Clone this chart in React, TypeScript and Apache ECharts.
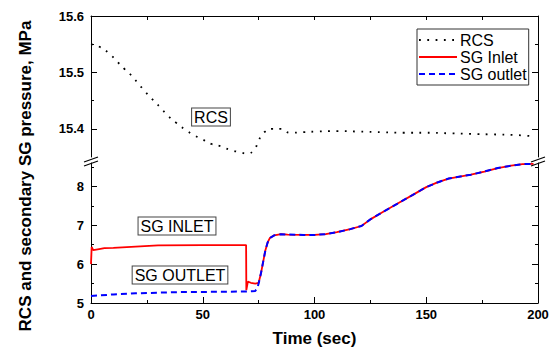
import React, { useEffect, useRef } from "react";
import * as echarts from "echarts";

const rcsTime = [0, 4, 8, 12, 15, 18, 21, 24, 27, 31, 34, 38, 42, 46, 50, 54, 58, 62, 66, 70, 73, 75, 77, 81, 85, 89, 95, 100, 110, 120, 130, 140, 150, 160, 170, 180, 190, 197];
const rcsValues = [15.55, 15.545, 15.534, 15.518, 15.506, 15.495, 15.481, 15.467, 15.454, 15.438, 15.425, 15.411, 15.399, 15.389, 15.381, 15.373, 15.369, 15.363, 15.359, 15.356, 15.363, 15.379, 15.392, 15.4, 15.4, 15.393, 15.394, 15.395, 15.396, 15.395, 15.394, 15.393, 15.393, 15.392, 15.391, 15.39, 15.389, 15.387];

const inletTime = [0, 0.3, 1, 3, 6, 10, 20, 30, 50, 69.4, 69.5, 70.2, 71.5, 73.5, 75, 76, 77, 78, 79, 80, 82, 85, 88, 95, 100, 105, 110, 116, 121, 125, 130, 137, 144, 150, 155, 160, 170, 176, 182, 188, 193, 198];
const inletValues = [6.0, 6.44, 6.36, 6.38, 6.41, 6.42, 6.45, 6.48, 6.49, 6.49, 5.33, 5.55, 5.52, 5.5, 5.52, 5.75, 6.05, 6.35, 6.55, 6.67, 6.74, 6.77, 6.76, 6.75, 6.75, 6.77, 6.82, 6.9, 6.98, 7.15, 7.32, 7.55, 7.78, 7.98, 8.1, 8.2, 8.3, 8.38, 8.47, 8.53, 8.57, 8.58];

const outletTime = [0, 10, 20, 40, 60, 72, 73.5, 74.5, 75, 76, 77, 78, 79, 80, 82, 85, 88, 95, 100, 105, 110, 116, 121, 125, 130, 137, 144, 150, 155, 160, 170, 176, 182, 188, 193, 198];
const outletValues = [5.18, 5.22, 5.25, 5.28, 5.29, 5.3, 5.31, 5.4, 5.5, 5.75, 6.05, 6.35, 6.55, 6.67, 6.74, 6.77, 6.76, 6.75, 6.75, 6.77, 6.82, 6.9, 6.98, 7.15, 7.32, 7.55, 7.78, 7.98, 8.1, 8.2, 8.3, 8.38, 8.47, 8.53, 8.57, 8.58];

const topMajorTicks = [15.4, 15.5];
const topMinorTicks = [15.45, 15.55];
const topLabels = [15.4, 15.5, 15.6];
const bottomMajorTicks = [6, 7, 8];
const bottomMinorTicks = [5.5, 6.5, 7.5, 8.5];
const bottomLabels = [5, 6, 7, 8];

const FONT = "'Liberation Sans', Arial, sans-serif";

const pairs = (t: number[], v: number[]) => t.map((x, i) => [x, v[i]]);

function yAxes(gridIndex: number, min: number, max: number, major: number[], minor: number[], labels: number[]) {
  const base = {
    type: "value",
    gridIndex,
    min,
    max,
    splitLine: { show: false },
    axisLine: { show: true, lineStyle: { color: "#000", width: 1 } },
  };
  return [
    {
      ...base,
      position: "left",
      axisTick: { show: true, inside: true, length: 6, customValues: major, lineStyle: { color: "#000" } },
      axisLabel: {
        show: true,
        customValues: labels,
        color: "#000",
        fontWeight: "bold",
        fontSize: 13,
        fontFamily: FONT,
        margin: 7,
      },
    },
    {
      ...base,
      position: "left",
      axisLine: { show: false },
      axisTick: { show: true, inside: true, length: 3, customValues: minor, lineStyle: { color: "#000" } },
      axisLabel: { show: false },
    },
    {
      ...base,
      position: "right",
      axisTick: { show: true, inside: true, length: 6, customValues: major, lineStyle: { color: "#000" } },
      axisLabel: { show: false },
    },
    {
      ...base,
      position: "right",
      axisLine: { show: false },
      axisTick: { show: true, inside: true, length: 3, customValues: minor, lineStyle: { color: "#000" } },
      axisLabel: { show: false },
    },
  ];
}

function annotation(text: string, x: number, y: number) {
  return {
    type: "text",
    x,
    y,
    z: 100,
    style: {
      text,
      fontSize: 16,
      fontFamily: FONT,
      fill: "#000",
      align: "center",
      verticalAlign: "middle",
      backgroundColor: "#fff",
      borderColor: "#444",
      borderWidth: 1,
      padding: [1, 2, 0, 2],
    },
  };
}

function slash(x1: number, y1: number, x2: number, y2: number) {
  return {
    type: "line",
    z: 100,
    shape: { x1, y1, x2, y2 },
    style: { stroke: "#000", lineWidth: 1.2 },
  };
}

export default function App() {
  const ref = useRef<HTMLDivElement>(null);
  useEffect(() => {
    if (!ref.current) return;
    const chart = echarts.init(ref.current, undefined, { renderer: "svg" });
    chart.setOption({
      animation: false,
      backgroundColor: "#fff",
      grid: [
        { left: 91, right: 15, top: 16, height: 141 },
        { left: 91, right: 15, top: 163, height: 140 },
      ],
      xAxis: [
        {
          type: "value",
          gridIndex: 0,
          position: "top",
          min: 0,
          max: 200,
          interval: 25,
          splitLine: { show: false },
          axisLine: { show: true, lineStyle: { color: "#000" } },
          axisTick: { show: true, inside: true, length: 4, lineStyle: { color: "#000" } },
          axisLabel: { show: false },
        },
        {
          type: "value",
          gridIndex: 1,
          position: "bottom",
          min: 0,
          max: 200,
          interval: 50,
          splitLine: { show: false },
          axisLine: { show: true, lineStyle: { color: "#000" } },
          axisTick: { show: true, inside: true, length: 6, lineStyle: { color: "#000" } },
          minorTick: { show: true, splitNumber: 2, length: 3, lineStyle: { color: "#000" } },
          minorSplitLine: { show: false },
          axisLabel: {
            color: "#000",
            fontWeight: "bold",
            fontSize: 13,
            fontFamily: FONT,
            margin: 5,
          },
          name: "Time (sec)",
          nameLocation: "middle",
          nameGap: 27,
          nameTextStyle: { color: "#000", fontWeight: "bold", fontSize: 17, fontFamily: FONT },
        },
      ],
      yAxis: [
        ...yAxes(0, 15.35, 15.6, topMajorTicks, topMinorTicks, topLabels),
        ...yAxes(1, 5, 8.6, bottomMajorTicks, bottomMinorTicks, bottomLabels),
      ],
      legend: {
        orient: "vertical",
        left: 417,
        top: 29,
        padding: [3, 2, 3, 1],
        itemGap: 1,
        itemWidth: 38,
        itemHeight: 14,
        borderColor: "#333",
        borderWidth: 1,
        backgroundColor: "#fff",
        itemStyle: { opacity: 0 },
        textStyle: { color: "#000", fontSize: 16, fontFamily: FONT, lineHeight: 16, padding: [0, 0, 0, -2] },
        data: ["RCS", "SG Inlet", "SG outlet"],
      },
      graphic: [
        annotation("RCS", 211, 117),
        annotation("SG INLET", 177, 226),
        annotation("SG OUTLET", 180, 275),
        {
          type: "text",
          x: 25,
          y: 176,
          rotation: Math.PI / 2,
          style: {
            text: "RCS and secondary SG pressure, MPa",
            fontSize: 17,
            fontWeight: "bold",
            fontFamily: FONT,
            fill: "#000",
            align: "center",
            verticalAlign: "middle",
          },
        },
        slash(84, 162, 98, 157),
        slash(84, 166, 98, 161),
        slash(531, 162, 545, 157),
        slash(531, 166, 545, 161),
      ],
      series: [
        {
          name: "RCS",
          type: "line",
          xAxisIndex: 0,
          yAxisIndex: 0,
          symbol: "none",
          smooth: true,
          lineStyle: { color: "#000", width: 1.8, type: [1.8, 6.5] },
          itemStyle: { color: "#000" },
          data: pairs(rcsTime, rcsValues),
        },
        {
          name: "SG Inlet",
          type: "line",
          xAxisIndex: 1,
          yAxisIndex: 4,
          symbol: "none",
          lineStyle: { color: "#ff0000", width: 1.8 },
          itemStyle: { color: "#ff0000" },
          data: pairs(inletTime, inletValues),
        },
        {
          name: "SG outlet",
          type: "line",
          xAxisIndex: 1,
          yAxisIndex: 4,
          symbol: "none",
          z: 3,
          lineStyle: { color: "#0000ff", width: 2, type: [6, 4] },
          itemStyle: { color: "#0000ff" },
          data: pairs(outletTime, outletValues),
        },
      ],
    });
    return () => chart.dispose();
  }, []);
  return <div ref={ref} style={{ width: 553, height: 350, position: "absolute", left: 0, top: 0 }} />;
}
